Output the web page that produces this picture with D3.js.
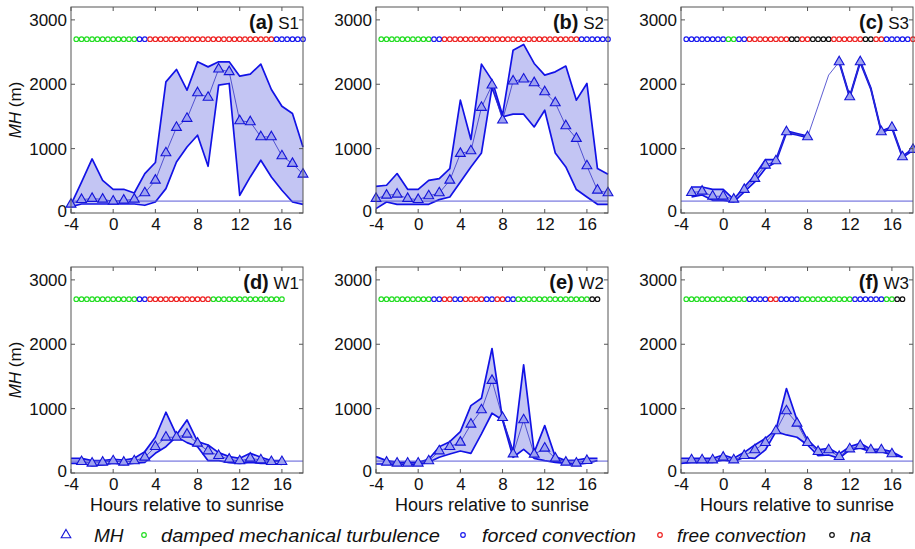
<!DOCTYPE html>
<html><head><meta charset="utf-8">
<script src="https://cdn.jsdelivr.net/npm/d3@7"></script>
<style>body{margin:0;background:#fff} text{font-family:"Liberation Sans",Arial,sans-serif}</style>
</head><body><svg id="chart" width="915" height="549"></svg>
<script>
// ---------- data ----------
const yTicks = [0, 1000, 2000, 3000];
const xTicks = [-4, 0, 4, 8, 12, 16];
const refLine = 185;
const regimeColors = {D: "#22dd22", F: "#1a1aee", R: "#ee2222", N: "#111111"};

// S1
const a_hours = d3.range(-4, 19);
const a_mh = [135,208,224,213,182,197,213,311,508,933,1328,1468,1866,1795,2235,2193,1431,1415,1182,1182,886,768,602];
const a_hi = [130,480,840,508,368,368,311,613,784,2037,2230,1908,2348,2270,2348,2348,2126,2157,2313,1919,1659,1546,1026];
const a_lo = [100,140,140,140,140,140,140,120,171,379,793,1026,1208,726,1986,2012,275,560,820,560,353,171,135];
const a_regime = "DDDDDDDDDDDDFFRRRRRRRRRRRRRRRRRRRRRRRRFFFFFF";

// S2
const b_hours = d3.range(-4, 19);
const b_mh = [224,275,291,224,208,265,311,508,923,964,1639,1986,1442,2048,2079,2022,1882,1711,1353,1157,731,353,311];
const b_hi = [415,431,613,368,368,508,535,690,1753,1142,2313,2064,1519,2530,2619,2323,2142,2193,2282,1753,2012,690,602];
const b_lo = [68,171,135,135,135,135,208,249,482,715,933,1950,1493,1535,1535,1337,1597,933,715,364,249,135,135];
const b_regime = "DDDDDDDDDDFFRRRRRRRRRRRRRRRRRRRRRRRRRRFFFFFF";

// S3
const c_hours = d3.range(-3, 19);
const c_line = [317,337,260,260,213,364,535,742,809,1260,1224,1182,1660,2142,2348,1804,2348,1935,1260,1328,871,986];
const c_mh = [317,337,260,260,213,364,535,742,809,1260,null,1182,null,null,2348,1804,2348,null,1260,1328,871,986];
const c_hi = [404,404,368,368,213,404,586,829,829,1275,1235,1195,null,null,2360,1815,2360,1945,1272,1340,882,998];
const c_lo = [249,280,197,197,171,327,482,690,793,1245,1212,1170,null,null,2336,1792,2336,1925,1248,1316,860,974];
const c_regime = "FFFFFFFFDDFFRRRRRRRRNNRRNNNNRRRRRRNNRRFFFFFR";

// W1
const d_hours = d3.range(-4, 17);
const d_mh = [null,176,151,166,187,166,187,244,409,555,555,601,461,342,270,213,187,228,202,176,176];
const d_hi = [228,228,192,192,213,202,228,332,555,944,591,824,487,435,316,254,228,306,244,192,192];
const d_lo = [151,151,114,124,151,135,151,166,306,409,565,472,409,192,192,161,151,166,151,151,135];
const d_regime = "DDDDDDDDDDDDFFRRRRRRRRRRRRDDDDDDDDDDDDDD";

// W2
const e_hours = d3.range(-4, 18);
const e_mh = [null,166,151,151,151,187,342,409,477,757,980,1436,860,295,824,290,384,228,166,151,192,null];
const e_hi = [254,192,166,166,166,213,409,487,643,1047,1161,1934,835,332,1680,321,736,254,192,202,228,228];
const e_lo = [140,140,135,135,135,166,244,296,342,306,607,928,824,244,368,228,192,166,151,135,151,192];
const e_regime = "DDDDDDDDDDFFRRFFRRRRFFRRFFDDDDDDDDDDDDDDNN";

// W3
const f_hours = d3.range(-4, 18);
const f_mh = [null,202,202,202,244,202,270,358,472,653,964,772,472,332,358,254,373,425,358,358,296,null];
const f_hi = [228,228,228,228,280,228,321,435,539,669,1312,824,513,358,384,296,409,461,368,368,332,244];
const f_lo = [151,166,166,166,202,176,244,228,358,643,591,555,435,270,280,228,358,384,332,332,280,244];
const f_regime = "DDDDDDDDDDDDFFFFRRFFFFDDDDDDDDDDFFFFFFDDNN";

const panels = [
  {tag:"(a)", name:"S1", col:0, row:0, hours:a_hours, line:a_mh, mh:a_mh, hi:a_hi, lo:a_lo, regime:a_regime},
  {tag:"(b)", name:"S2", col:1, row:0, hours:b_hours, line:b_mh, mh:b_mh, hi:b_hi, lo:b_lo, regime:b_regime},
  {tag:"(c)", name:"S3", col:2, row:0, hours:c_hours, line:c_line, mh:c_mh, hi:c_hi, lo:c_lo, regime:c_regime},
  {tag:"(d)", name:"W1", col:0, row:1, hours:d_hours, line:d_mh, mh:d_mh, hi:d_hi, lo:d_lo, regime:d_regime},
  {tag:"(e)", name:"W2", col:1, row:1, hours:e_hours, line:e_mh, mh:e_mh, hi:e_hi, lo:e_lo, regime:e_regime},
  {tag:"(f)", name:"W3", col:2, row:1, hours:f_hours, line:f_mh, mh:f_mh, hi:f_hi, lo:f_lo, regime:f_regime}
];

// ---------- drawing ----------
const svg = d3.select("#chart");
svg.append("rect").attr("width", 915).attr("height", 549).attr("fill", "#fff");
const colLeft = [71, 376, 681], pw = 232;
const rowTop = [7, 267], ph = 206;
const bandFill = "#c3c5f3", bandStroke = "#1212e6", frameCol = "#555";

panels.forEach(p => {
  const x0 = colLeft[p.col], y0 = rowTop[p.row];
  const x = d3.scaleLinear().domain([-4, 18]).range([x0, x0 + pw]);
  const y = d3.scaleLinear().domain([0, 3200]).range([y0 + ph, y0]);
  const g = svg.append("g");

  const pts = p.hours.map((h, i) => ({h, hi: p.hi[i], lo: p.lo[i], line: p.line[i], mh: p.mh[i]}));
  const area = d3.area().defined(d => d.hi != null && d.lo != null)
    .x(d => x(d.h)).y0(d => y(d.lo)).y1(d => y(d.hi));
  g.append("path").attr("d", area(pts)).attr("fill", bandFill).attr("stroke", "none");
  const lineHi = d3.line().defined(d => d.hi != null).x(d => x(d.h)).y(d => y(d.hi));
  const lineLo = d3.line().defined(d => d.lo != null).x(d => x(d.h)).y(d => y(d.lo));
  g.append("path").attr("d", lineHi(pts)).attr("fill", "none").attr("stroke", bandStroke).attr("stroke-width", 1.7).attr("stroke-linejoin", "round");
  g.append("path").attr("d", lineLo(pts)).attr("fill", "none").attr("stroke", bandStroke).attr("stroke-width", 1.7).attr("stroke-linejoin", "round");

  g.append("line").attr("x1", x(-4)).attr("x2", x(18)).attr("y1", y(refLine)).attr("y2", y(refLine))
    .attr("stroke", "#5a5ad8").attr("stroke-width", 1);

  const medLine = d3.line().defined(d => d.line != null).x(d => x(d.h)).y(d => y(d.line));
  g.append("path").attr("d", medLine(pts)).attr("fill", "none").attr("stroke", "#3535c8").attr("stroke-width", 0.8);

  const tri = d3.symbol().type(d3.symbolTriangle).size(42);
  g.selectAll(".tri").data(pts.filter(d => d.mh != null)).join("path")
    .attr("d", tri).attr("transform", d => `translate(${x(d.h)},${y(d.mh)})`)
    .attr("fill", "#9ea2f0").attr("stroke", "#1414d8").attr("stroke-width", 1.1);

  const reg = p.regime.split("").map((c, i) => ({h: -3.5 + 0.5 * i, c}));
  g.selectAll(".dot").data(reg).join("circle")
    .attr("cx", d => x(d.h)).attr("cy", y(2700)).attr("r", 2.3)
    .attr("fill", "none").attr("stroke", d => regimeColors[d.c]).attr("stroke-width", 1.2);

  g.append("rect").attr("x", x0).attr("y", y0).attr("width", pw).attr("height", ph)
    .attr("fill", "none").attr("stroke", frameCol).attr("stroke-width", 1);

  xTicks.forEach(t => {
    g.append("line").attr("x1", x(t)).attr("x2", x(t)).attr("y1", y0 + ph).attr("y2", y0 + ph - 4).attr("stroke", frameCol);
    g.append("line").attr("x1", x(t)).attr("x2", x(t)).attr("y1", y0).attr("y2", y0 + 4).attr("stroke", frameCol);
  });
  yTicks.forEach(t => {
    g.append("line").attr("x1", x0).attr("x2", x0 + 4).attr("y1", y(t)).attr("y2", y(t)).attr("stroke", frameCol);
    g.append("line").attr("x1", x0 + pw).attr("x2", x0 + pw - 4).attr("y1", y(t)).attr("y2", y(t)).attr("stroke", frameCol);
  });

  const xa = g.append("g").attr("transform", `translate(0,${y0 + ph})`)
    .call(d3.axisBottom(x).tickValues(xTicks).tickSize(0).tickPadding(5).tickFormat(d3.format("d")));
  xa.select(".domain").remove();
  xa.selectAll("text").attr("font-size", 17).attr("fill", "#111").attr("font-family", "Liberation Sans, Arial, sans-serif")
    .text(d => d < 0 ? "-" + Math.abs(d) : d);
  const ya = g.append("g").attr("transform", `translate(${x0},0)`)
    .call(d3.axisLeft(y).tickValues(yTicks).tickSize(0).tickPadding(4).tickFormat(d3.format("d")));
  ya.select(".domain").remove();
  ya.selectAll("text").attr("font-size", 17).attr("fill", "#111").attr("font-family", "Liberation Sans, Arial, sans-serif")
    .attr("dy", d => d === 0 ? "0.2em" : "0.32em");

  const t = g.append("text").attr("x", x0 + pw - 4).attr("y", y0 + 22).attr("text-anchor", "end").attr("fill", "#111");
  t.append("tspan").attr("font-weight", "bold").attr("font-size", 20).text(p.tag);
  t.append("tspan").attr("font-size", 17).text(" " + p.name);

  if (p.col === 0) {
    const yl = g.append("text").attr("transform", `translate(21,${y0 + ph / 2}) rotate(-90)`)
      .attr("text-anchor", "middle").attr("font-size", 17).attr("fill", "#111");
    yl.append("tspan").attr("font-style", "italic").text("MH");
    yl.append("tspan").text(" (m)");
  }
  if (p.row === 1) {
    g.append("text").attr("x", x0 + pw / 2).attr("y", 511).attr("text-anchor", "middle")
      .attr("font-size", 18).attr("fill", "#111").text("Hours relative to sunrise");
  }
});

// ---------- legend ----------
const lg = svg.append("g");
const ly = 536;
lg.append("path").attr("d", d3.symbol().type(d3.symbolTriangle).size(40)())
  .attr("transform", `translate(66,${ly - 1})`).attr("fill", "none").attr("stroke", "#1414d8").attr("stroke-width", 1.1);
lg.append("text").attr("x", 94).attr("y", ly + 6).attr("font-size", 19).attr("font-style", "italic").attr("fill", "#111").text("MH");
const regItems = [
  {x: 144, code: "D", lx: 161, label: "damped mechanical turbulence", w: 279},
  {x: 463, code: "F", lx: 482, label: "forced convection", w: 154},
  {x: 660, code: "R", lx: 677, label: "free convection", w: 129},
  {x: 832, code: "N", lx: 850, label: "na", w: null}
];
regItems.forEach(it => {
  lg.append("circle").attr("cx", it.x).attr("cy", ly - 1).attr("r", 2.3).attr("fill", "none")
    .attr("stroke", regimeColors[it.code]).attr("stroke-width", 1.2);
  const tx = lg.append("text").attr("x", it.lx).attr("y", ly + 6).attr("font-size", 19).attr("font-style", "italic")
    .attr("fill", "#111").text(it.label);
  if (it.w) tx.attr("textLength", it.w).attr("lengthAdjust", "spacingAndGlyphs");
});
</script></body></html>
